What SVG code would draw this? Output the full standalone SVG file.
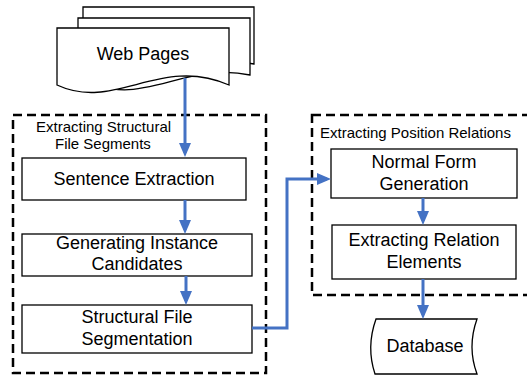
<svg xmlns="http://www.w3.org/2000/svg" width="527" height="377" viewBox="0 0 527 377">
<style>
.box{fill:#fff;stroke:#000;stroke-width:1.3}
.grp{fill:none;stroke:#000;stroke-width:2.5;stroke-dasharray:9,5}
.t{font-family:"Liberation Sans",Arial,sans-serif;font-size:18px;fill:#000;text-anchor:middle}
.lbl{font-family:"Liberation Sans",Arial,sans-serif;font-size:15px;fill:#000}
.con{fill:none;stroke:#4472C4;stroke-width:3}
</style>
<defs>
<marker id="ah" viewBox="0 0 14 12" refX="10" refY="6" markerWidth="14" markerHeight="12" markerUnits="userSpaceOnUse" orient="auto">
<path d="M0,0 L14,6 L0,12 z" fill="#4472C4"/>
</marker>
</defs>
<g id="group-structural">
<rect class="grp" x="13" y="115" width="253" height="258"/>
<text class="lbl" x="36" y="132">Extracting Structural</text>
<text class="lbl" x="55" y="149">File Segments</text>
</g>
<g id="group-position">
<rect class="grp" x="312" y="115" width="230" height="180"/>
<text class="lbl" x="320" y="138">Extracting Position Relations</text>
</g>
<g id="web-pages">
<path class="box" d="M83,7 H254 V64 C185,49 140,104 83,64 Z"/>
<path class="box" d="M78,18 H250 V75 C181,60 136,115 78,75 Z"/>
<path class="box" d="M57,28 H229 V85 C160,55 115,112 57,85 Z"/>
<text class="t" x="143" y="60">Web Pages</text>
</g>
<g id="sentence-extraction">
<rect class="box" x="22" y="158" width="224" height="42"/>
<text class="t" x="134" y="185">Sentence Extraction</text>
</g>
<g id="generating-instance">
<rect class="box" x="22" y="234" width="230" height="42"/>
<text class="t" x="137" y="249">Generating Instance</text>
<text class="t" x="137" y="270">Candidates</text>
</g>
<g id="structural-file">
<rect class="box" x="22" y="305" width="230" height="48"/>
<text class="t" x="137" y="323">Structural File</text>
<text class="t" x="137" y="345">Segmentation</text>
</g>
<g id="normal-form">
<rect class="box" x="331" y="149" width="186" height="49"/>
<text class="t" x="424" y="168">Normal Form</text>
<text class="t" x="424" y="190">Generation</text>
</g>
<g id="extracting-relation">
<rect class="box" x="332" y="225" width="184" height="54"/>
<text class="t" x="424" y="246">Extracting Relation</text>
<text class="t" x="424" y="268">Elements</text>
</g>
<g id="database">
<path class="box" d="M376,319 H477 Q467,347 477,374 H375 Q366,347 376,319 Z"/>
<text class="t" x="425" y="352">Database</text>
</g>
<g id="connectors">
<path class="con" d="M185,78 V153" marker-end="url(#ah)"/>
<path class="con" d="M185,200 V230" marker-end="url(#ah)"/>
<path class="con" d="M186,276 V301" marker-end="url(#ah)"/>
<path class="con" d="M252,328 H287 V179 H327" marker-end="url(#ah)"/>
<path class="con" d="M423,198 V221" marker-end="url(#ah)"/>
<path class="con" d="M423,279 V315" marker-end="url(#ah)"/>
</g>
</svg>
